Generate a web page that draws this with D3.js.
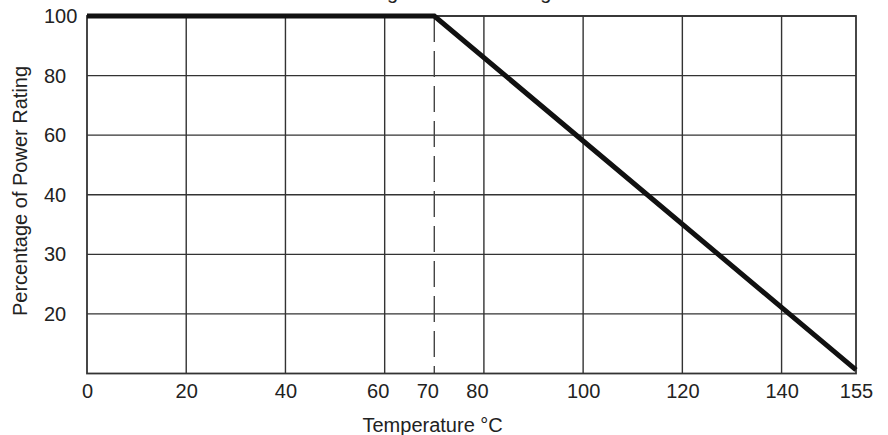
<!DOCTYPE html>
<html>
<head>
<meta charset="utf-8">
<script src="https://cdn.jsdelivr.net/npm/d3@7/dist/d3.min.js"></script>
<style>
  body { margin: 0; background: #fff; }
  svg { display: block; font-family: "Liberation Sans", Arial, Helvetica, sans-serif; }
</style>
</head>
<body>
<div id="chart"></div>
<script>
// 降額曲線資料 (溫度 °C, 額定功率 %)
const curveTemps = [0, 70, 155];
const curvePercents = [100, 100, 1];

// X 軸刻度與格線
const xTicks = [0, 20, 40, 60, 70, 80, 100, 120, 140, 155];
const xGridSolid = [20, 40, 60, 80, 100, 120, 140];
const xGridDashed = [70];

// Y 軸標籤 (原圖就是這樣標的，間距相等)
const yTickLabels = ["100", "80", "60", "40", "30", "20"];

const W = 888, H = 435;
const plot = {left: 87, right: 856, top: 16, bottom: 373.5};

const svg = d3.select("#chart").append("svg")
    .attr("width", W)
    .attr("height", H);

const x = d3.scaleLinear().domain([0, 155]).range([plot.left, plot.right]);
const y = d3.scaleLinear().domain([0, 100]).range([plot.bottom, plot.top]);
// 格線位置：每個標籤一格，最底下是框線
const yGrid = d3.scaleLinear().domain([0, yTickLabels.length]).range([plot.top, plot.bottom]);

// 標題 (原圖上方被裁掉，只看得到字尾)
svg.append("text")
    .attr("x", 437)
    .attr("y", -1.5)
    .attr("text-anchor", "middle")
    .attr("font-size", 20)
    .attr("fill", "#222")
    .text("Derating Curve vs. Rating");

// 橫向格線
svg.append("g")
    .selectAll("line")
    .data(yTickLabels)
    .enter().append("line")
    .attr("x1", plot.left)
    .attr("x2", plot.right)
    .attr("y1", (d, i) => yGrid(i))
    .attr("y2", (d, i) => yGrid(i))
    .attr("stroke", "#333")
    .attr("stroke-width", 1.4);

// 直向格線
svg.append("g")
    .selectAll("line")
    .data(xGridSolid)
    .enter().append("line")
    .attr("x1", d => x(d))
    .attr("x2", d => x(d))
    .attr("y1", plot.top)
    .attr("y2", plot.bottom)
    .attr("stroke", "#333")
    .attr("stroke-width", 1.4);

svg.append("g")
    .selectAll("line")
    .data(xGridDashed)
    .enter().append("line")
    .attr("x1", d => x(d))
    .attr("x2", d => x(d))
    .attr("y1", plot.top)
    .attr("y2", plot.bottom)
    .attr("stroke", "#444")
    .attr("stroke-width", 1.4)
    .attr("stroke-dasharray", "26,9");

// 外框
svg.append("rect")
    .attr("x", plot.left)
    .attr("y", plot.top)
    .attr("width", plot.right - plot.left)
    .attr("height", plot.bottom - plot.top)
    .attr("fill", "none")
    .attr("stroke", "#333")
    .attr("stroke-width", 1.8);

// 曲線
const line = d3.line()
    .x(d => x(d[0]))
    .y(d => y(d[1]));

svg.append("path")
    .datum(curveTemps.map((t, i) => [t, curvePercents[i]]))
    .attr("d", line)
    .attr("fill", "none")
    .attr("stroke", "#111")
    .attr("stroke-width", 5)
    .attr("stroke-linejoin", "miter");

// X 軸標籤
const xAxis = svg.append("g")
    .attr("transform", `translate(0,${plot.bottom})`)
    .call(d3.axisBottom(x).tickValues(xTicks).tickSize(0).tickPadding(10).tickFormat(d3.format("d")));
xAxis.select(".domain").remove();
xAxis.selectAll("text")
    .attr("font-size", 20)
    .attr("font-family", "\"Liberation Sans\", Arial, sans-serif")
    .attr("fill", "#222")
    // 60/70/80 在原圖稍微往左擠
    .attr("dx", d => (d >= 60 && d <= 80) ? -7 : 0);

// Y 軸標籤 (靠左對齊)
svg.append("g")
    .selectAll("text")
    .data(yTickLabels)
    .enter().append("text")
    .attr("x", 44)
    .attr("y", (d, i) => yGrid(i))
    .attr("dy", "0.35em")
    .attr("font-size", 20)
    .attr("fill", "#222")
    .text(d => d);

// 軸標題
svg.append("text")
    .attr("x", 362.5)
    .attr("y", 431.5)
    .attr("font-size", 20)
    .attr("fill", "#222")
    .text("Temperature °C");

svg.append("text")
    .attr("transform", "translate(27,191) rotate(-90)")
    .attr("text-anchor", "middle")
    .attr("font-size", 20)
    .attr("fill", "#222")
    .text("Percentage of Power Rating");
</script>
</body>
</html>
